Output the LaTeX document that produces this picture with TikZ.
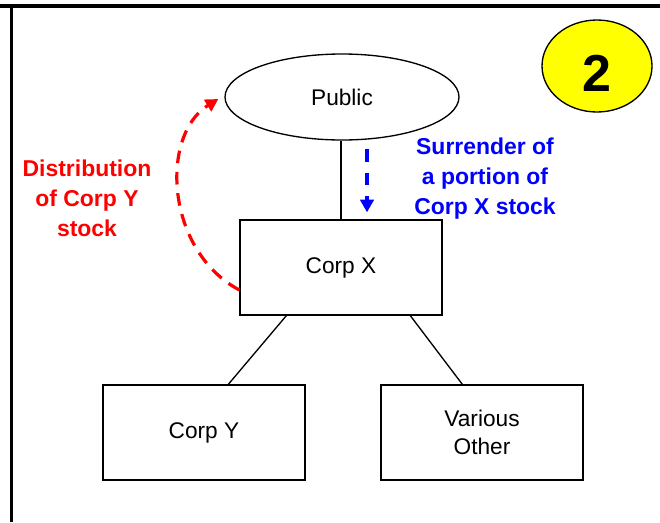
\documentclass[tikz,border=0pt]{standalone}
\usepackage{fontspec}
\setmainfont{Liberation Sans}
\usetikzlibrary{arrows.meta,shapes.geometric,calc}
\definecolor{lblred}{RGB}{255,0,0}
\definecolor{lblblue}{RGB}{0,0,255}
\definecolor{badge}{RGB}{255,255,0}
\begin{document}
\begin{tikzpicture}[x=0.75pt,y=-0.75pt,
  txt/.style={font=\fontsize{17}{21}\selectfont, align=center},
  boxnode/.style={draw, line width=1pt, minimum width=151.5pt, minimum height=71.25pt, inner sep=0pt, txt},
  ovalnode/.style={draw, ellipse, line width=1pt, minimum width=175.5pt, minimum height=64.5pt, inner sep=0pt, txt},
  badgenode/.style={draw, ellipse, line width=1pt, fill=badge, minimum width=82.5pt, minimum height=69pt, inner sep=0pt},
  lbl/.style={font=\bfseries\fontsize{17.2}{22.5}\selectfont, align=center},
  link/.style={line width=1pt},
  frame/.style={line width=2.6pt}
]
\useasboundingbox (0,0) rectangle (660,522);
% frame
\coordinate (ftl) at (0,6);
\coordinate (ftr) at (660,6);
\coordinate (flt) at (11.5,6);
\coordinate (flb) at (11.5,522);
\draw[frame] (ftl) -- (ftr);
\draw[frame] (flt) -- (flb);

% nodes
\node[ovalnode] (Public) at (342,97) {Public};
\node[boxnode] (CorpX) at (341,267.5) {Corp X};
\node[boxnode] (CorpY) at (204,432.5) {Corp Y};
\node[boxnode] (Various) at (482,432.5) {Various\\Other};
\node[badgenode] (Badge) at (597,66) {};
\node[font=\bfseries\fontsize{39}{39}\selectfont, inner sep=0pt] (BadgeNum) at (597,73) {2};

\node[lbl, text=lblred] (LblDist) at (87,198) {Distribution\\of Corp Y\\stock};
\node[lbl, text=lblblue] (LblSurr) at (485,179) {Surrender of\\a portion of\\Corp X stock};

% connectors
\draw[link] (CorpX.north) -- (CorpX.north |- Public.south);
\draw[link] ($(CorpX.south west)+(47,0)$) -- ($(CorpY.north west)+(126,0)$);
\draw[link] ($(CorpX.south west)+(171,0)$) -- ($(Various.north west)+(82,0)$);

% blue dashed arrow
\coordinate (bs) at ($(CorpX.north)+(26,-70)$);
\coordinate (be) at ($(CorpX.north)+(26,-7)$);
\draw[lblblue, line width=2.4pt, dash pattern=on 9.5pt off 8pt, -{Triangle[length=9.5pt,width=10pt]}] (bs) -- (be);

% red dashed arc
\coordinate (rs) at ($(CorpX.west)+(0,22.5)$);
\coordinate (re) at ($(Public.west)+(-6,2)$);
\draw[lblred, line width=2.4pt, dash pattern=on 9.5pt off 6.5pt, -{Triangle[length=9.5pt,width=10pt]}]
  (rs) .. controls (165,250) and (160,135) .. (re);
\end{tikzpicture}
\end{document}
